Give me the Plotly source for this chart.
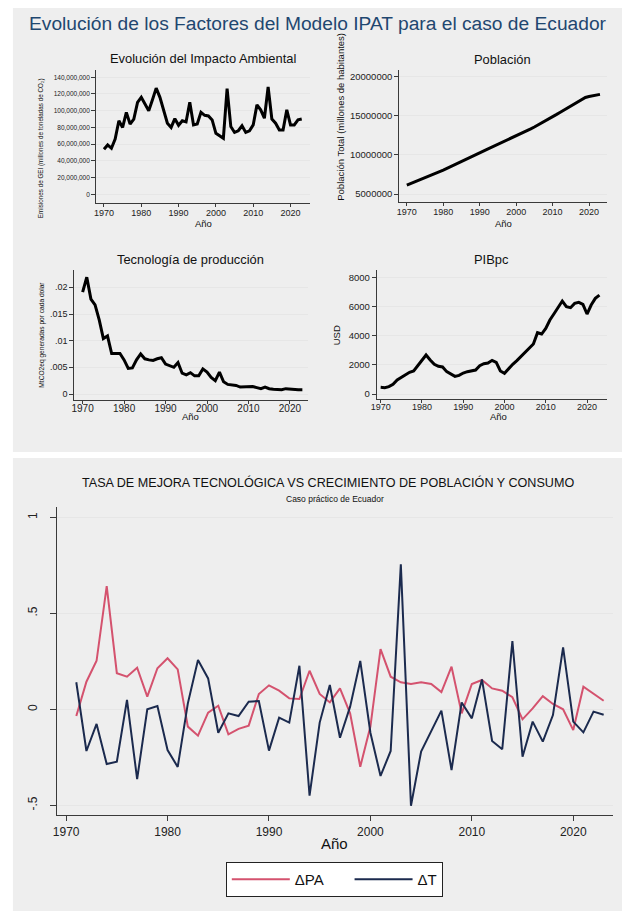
import plotly.graph_objects as go

W, H = 622, 911

# ---- data -------------------------------------------------------------
years = list(range(1970, 2024))

# Emisiones de GEI (toneladas de CO2 eq.)
emisiones = [
    53.8e6, 59.0e6, 55.0e6, 66.0e6, 88.0e6, 80.0e6, 98.0e6, 84.0e6, 90.0e6, 110.0e6,
    116.0e6, 107.0e6, 100.0e6, 113.0e6, 127.0e6, 116.0e6, 99.0e6, 85.0e6, 80.0e6, 90.5e6,
    82.6e6, 88.0e6, 86.6e6, 110.0e6, 83.0e6, 84.0e6, 98.0e6, 94.5e6, 93.7e6, 89.0e6,
    73.0e6, 70.0e6, 67.0e6, 126.5e6, 81.0e6, 74.0e6, 76.0e6, 82.0e6, 74.0e6, 76.0e6,
    83.0e6, 107.0e6, 101.0e6, 91.0e6, 128.4e6, 90.0e6, 85.0e6, 77.0e6, 77.0e6, 101.0e6,
    83.0e6, 83.0e6, 89.0e6, 90.0e6,
]

# Poblacion total (habitantes)
poblacion = [
    6.15e6, 6.33e6, 6.51e6, 6.70e6, 6.89e6, 7.08e6, 7.28e6, 7.48e6, 7.68e6, 7.87e6,
    8.07e6, 8.28e6, 8.49e6, 8.71e6, 8.93e6, 9.15e6, 9.37e6, 9.59e6, 9.81e6, 10.05e6,
    10.27e6, 10.49e6, 10.71e6, 10.92e6, 11.13e6, 11.34e6, 11.55e6, 11.76e6, 11.97e6, 12.19e6,
    12.41e6, 12.63e6, 12.86e6, 13.09e6, 13.33e6, 13.57e6, 13.82e6, 14.08e6, 14.34e6, 14.61e6,
    14.88e6, 15.15e6, 15.43e6, 15.71e6, 15.99e6, 16.27e6, 16.55e6, 16.82e6, 17.09e6, 17.35e6,
    17.46e6, 17.56e6, 17.65e6, 17.74e6,
]

# Tecnologia de produccion (MtCO2eq por dolar)
tecnologia = [
    0.0191, 0.0219, 0.0178, 0.0167, 0.0139, 0.0104, 0.0109, 0.0076, 0.0076, 0.0076,
    0.0064, 0.0048, 0.0049, 0.0064, 0.0075, 0.0066, 0.0064, 0.0063, 0.0066, 0.0068,
    0.0056, 0.0053, 0.0050, 0.0059, 0.0039, 0.0036, 0.0040, 0.0034, 0.0034, 0.0047,
    0.0041, 0.0031, 0.0025, 0.0041, 0.0023, 0.0018, 0.0017, 0.0016, 0.0013, 0.0013,
    0.0013, 0.0014, 0.0012, 0.0010, 0.0013, 0.0010, 0.0009, 0.0008, 0.0008, 0.0010,
    0.0009, 0.0009, 0.0008, 0.0008,
]

# PIB per capita (USD)
pibpc = [
    458, 435, 504, 665, 963, 1123, 1306, 1490, 1581, 1948,
    2384, 2682, 2338, 2040, 1902, 1856, 1536, 1352, 1215, 1283,
    1444, 1536, 1604, 1650, 1948, 2086, 2131, 2315, 2177, 1581,
    1421, 1765, 2040, 2292, 2567, 2865, 3163, 3438, 4217, 4126,
    4515, 5088, 5524, 6005, 6395, 6005, 5936, 6234, 6303, 6165,
    5501, 6120, 6578, 6807,
]

# Tasas de variacion anual
years_d = list(range(1971, 2024))
delta_pa = [
    -0.035, 0.144, 0.253, 0.642, 0.188, 0.170, 0.217, 0.066, 0.214,
    0.266, 0.208, -0.090, -0.137, -0.017, 0.019, -0.130, -0.102, -0.085, 0.080,
    0.125, 0.097, 0.057, 0.054, 0.201, 0.080, 0.036, 0.109, -0.021, -0.299,
    -0.090, 0.314, 0.170, 0.141, 0.132, 0.141, 0.132, 0.090, 0.222, -0.021,
    0.132, 0.153, 0.109, 0.097, 0.063, -0.052, 0.005, 0.069, 0.028, 0.000,
    -0.108, 0.118, 0.083, 0.045,
]
delta_t = [
    0.141, -0.217, -0.076, -0.285, -0.273, 0.049, -0.363, 0.000, 0.017,
    -0.212, -0.300, 0.031, 0.257, 0.161, -0.122, -0.021, -0.035, 0.040, 0.043,
    -0.215, -0.043, -0.069, 0.227, -0.450, -0.069, 0.127, -0.148, 0.014, 0.252,
    -0.122, -0.347, -0.217, 0.755, -0.502, -0.220, -0.113, -0.007, -0.316, 0.036,
    -0.047, 0.156, -0.165, -0.208, 0.356, -0.247, -0.064, -0.168, -0.030, 0.323,
    -0.064, -0.120, -0.012, -0.028,
]

year_ticks = [1970, 1980, 1990, 2000, 2010, 2020]
tec_ticks = [0, 0.005, 0.01, 0.015, 0.02]
tec_labels = ["0", ".005", ".01", ".015", ".02"]
delta_ticks = [-0.5, 0, 0.5, 1]
delta_labels = ["-.5", "0", ".5", "1"]

# ---- styling ----------------------------------------------------------
FONT = "Liberation Sans, Arial, sans-serif"
PANEL_BG = "#EEEEEE"
GRID = "#E6E6E6"
AXIS = "#3A3A3A"
PINK = "#D4526E"
NAVY = "#1B2A4E"
NBSP = "\u00a0"


def fx(px):
    return px / W


def fy(py):
    return 1 - py / H


def xax(x0, x1, y_anchor, rng, size, ticks=year_ticks, ticklen=3, standoff=-2):
    return dict(
        domain=[fx(x0), fx(x1)], anchor=y_anchor, range=rng,
        tickvals=ticks, showgrid=False, zeroline=False,
        showline=True, linecolor=AXIS, linewidth=1,
        ticks="outside", ticklen=ticklen, tickcolor=AXIS,
        ticklabelstandoff=standoff,
        tickfont=dict(size=size, color="#222", family=FONT),
    )


def yax(y0, y1, x_anchor, rng, size, **kw):
    d = dict(
        domain=[fy(y1), fy(y0)], anchor=x_anchor, range=rng,
        showgrid=True, gridcolor=GRID, gridwidth=1, zeroline=False,
        showline=True, linecolor=AXIS, linewidth=1,
        ticks="outside", ticklen=4, tickcolor=AXIS,
        tickfont=dict(size=size, color="#222", family=FONT),
    )
    d.update(kw)
    return d


fig = go.Figure()

top_line = dict(color="black", width=3)
fig.add_trace(go.Scatter(x=years, y=emisiones, mode="lines", line=top_line,
                         xaxis="x", yaxis="y", showlegend=False))
fig.add_trace(go.Scatter(x=years, y=poblacion, mode="lines", line=top_line,
                         xaxis="x2", yaxis="y2", showlegend=False))
fig.add_trace(go.Scatter(x=years, y=tecnologia, mode="lines", line=top_line,
                         xaxis="x3", yaxis="y3", showlegend=False))
fig.add_trace(go.Scatter(x=years, y=pibpc, mode="lines", line=top_line,
                         xaxis="x4", yaxis="y4", showlegend=False))
fig.add_trace(go.Scatter(x=years_d, y=delta_pa, mode="lines", name="ΔPA" + NBSP * 5,
                         line=dict(color=PINK, width=2), xaxis="x5", yaxis="y5"))
fig.add_trace(go.Scatter(x=years_d, y=delta_t, mode="lines", name="ΔT",
                         line=dict(color=NAVY, width=2), xaxis="x5", yaxis="y5"))

layout = dict(
    width=W, height=H, margin=dict(l=0, r=0, t=0, b=0),
    paper_bgcolor="white", plot_bgcolor="white",
    font=dict(family=FONT, color="#222"),
    xaxis=xax(91, 306.7, "y", [1967.9, 2025.15], 9),
    yaxis=yax(70, 202.7, "x", [-10.05e6, 148.7e6], 6.5,
              tickvals=[0, 20e6, 40e6, 60e6, 80e6, 100e6, 120e6, 140e6], tickformat=",d"),
    xaxis2=xax(397, 607, "y2", [1967.9, 2024.97], 9),
    yaxis2=yax(70, 202.3, "x2", [3.94e6, 20.86e6], 9.5,
               tickvals=[5e6, 10e6, 15e6, 20e6], tickformat="d"),
    xaxis3=xax(69, 305, "y3", [1968.0, 2024.37], 10, standoff=-4),
    yaxis3=yax(270, 400, "x3", [-0.001125, 0.02325], 9,
               tickvals=tec_ticks, ticktext=tec_labels),
    xaxis4=xax(374.3, 607, "y4", [1969.04, 2024.87], 9, standoff=-4),
    yaxis4=yax(270, 399, "x4", [-344, 8530], 9.5,
               tickvals=[0, 2000, 4000, 6000, 8000]),
    xaxis5=xax(51, 612.7, "y5", [1969.05, 2023.9], 12, ticklen=5, standoff=0),
    yaxis5=yax(507, 815.3, "x5", [-0.552, 1.054], 12,
               tickvals=delta_ticks, ticktext=delta_labels, tickangle=-90, ticklen=6,
               ticklabelstandoff=8),
    legend=dict(
        orientation="h", x=fx(331.5), xanchor="center", y=fy(862), yanchor="top",
        bgcolor="white", bordercolor="#222", borderwidth=1,
        font=dict(size=15, color="#111", family=FONT), itemwidth=58,
    ),
    shapes=[
        dict(type="rect", xref="paper", yref="paper", x0=fx(7), x1=1, y0=fy(452), y1=fy(8),
             fillcolor=PANEL_BG, line=dict(width=0), layer="below"),
        dict(type="rect", xref="paper", yref="paper", x0=fx(7), x1=1, y0=0, y1=fy(458),
             fillcolor=PANEL_BG, line=dict(width=0), layer="below"),
    ],
)


def note(text, x, y, size, color="#111", angle=0):
    return dict(text=text, x=fx(x), y=fy(y), xref="paper", yref="paper",
                xanchor="center", yanchor="middle", showarrow=False,
                textangle=angle, font=dict(size=size, color=color, family=FONT))


layout["annotations"] = [
    note("Evolución de los Factores del Modelo IPAT para el caso de Ecuador", 315.5, 24, 19.2, "#1F4770"),
    note("Evolución del Impacto Ambiental", 199, 58, 12.9),
    note("Población", 501, 59, 12.9),
    note("Tecnología de producción", 186, 260, 12.9),
    note("PIBpc", 490, 259, 12.9),
    note("Año", 199, 223, 9.5),
    note("Año", 502.5, 223, 9.5),
    note("Año", 186, 416.5, 9.5),
    note("Año", 497.5, 416.5, 9.5),
    note("Emisiones de GEI (millones de toneladas de CO₂)", 35.5, 148, 6.3, angle=-90),
    note("Población Total (millones de habitantes)", 337, 117, 9.5, angle=-90),
    note("MtCO2eq generadas por cada dolar", 36, 335, 6.6, angle=-90),
    note("USD", 334, 335.5, 9.5, angle=-90),
    note("TASA DE MEJORA TECNOLÓGICA VS CRECIMIENTO DE POBLACIÓN Y CONSUMO", 325, 482, 12.6),
    note("Caso práctico de Ecuador", 332, 498.5, 8.5),
    note("Año", 332, 843, 15),
]

fig.update_layout(**layout)
fig.write_html("out.html")
